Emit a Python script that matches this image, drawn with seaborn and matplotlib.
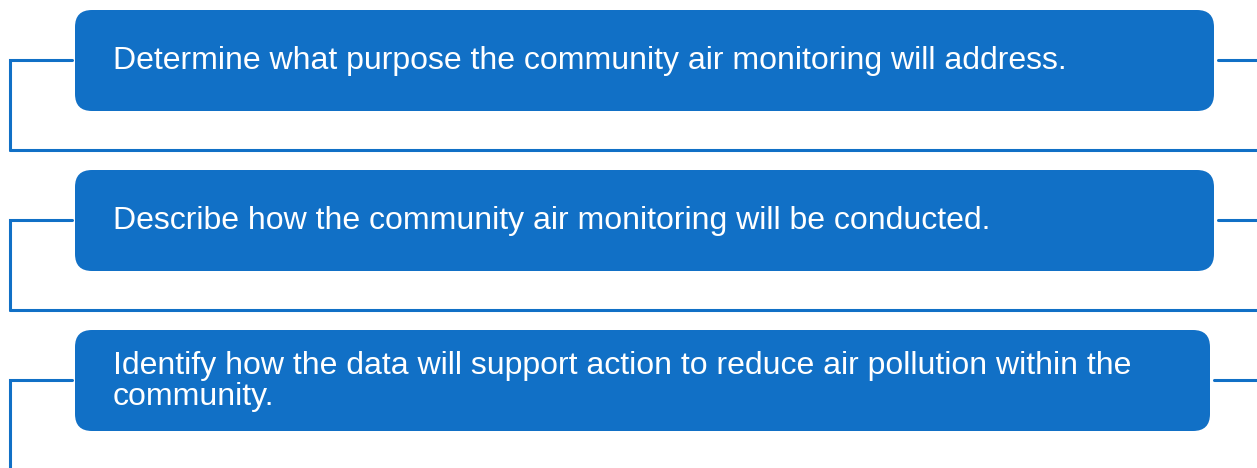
import matplotlib
matplotlib.use("Agg")
import matplotlib.pyplot as plt
from matplotlib.patches import FancyBboxPatch
import seaborn as sns

sns.set_style("white")
plt.rcParams["font.family"] = ["Liberation Sans", "DejaVu Sans"]

# steps of the flow, one box each
steps = [
    "Determine what purpose the community air monitoring will address.",
    "Describe how the community air monitoring will be conducted.",
    "Identify how the data will support action to reduce air pollution within the\ncommunity.",
]

blue = "#1170C6"
W, H = 1257, 468

fig = plt.figure(figsize=(W / 100, H / 100), dpi=100)
ax = fig.add_axes([0, 0, 1, 1])
ax.set_xlim(0, W)
ax.set_ylim(H, 0)
ax.axis("off")

box_top = [10, 170, 330]
box_right = [1214, 1214, 1210]
box_h = 101
lw = 2.2

for i, text in enumerate(steps):
    top = box_top[i]
    right = box_right[i]
    mid = top + 50
    box = FancyBboxPatch((75, top), right - 75, box_h,
                         boxstyle="round,pad=0,rounding_size=17",
                         facecolor=blue, edgecolor="none", zorder=3)
    ax.add_patch(box)

    # connector lines
    bottom = 150 + 160 * i if i < 2 else H + 5
    ax.plot([72, 10, 10], [mid, mid, bottom], color=blue, lw=lw,
            solid_joinstyle="miter", zorder=2)
    if i < 2:
        ax.plot([10, W], [bottom, bottom], color=blue, lw=lw, zorder=2)
    ax.plot([right + 4, W], [mid, mid], color=blue, lw=lw, zorder=2)

    lines = text.split("\n")
    # one line sits in the middle, wrapped text starts near the top
    y0 = mid + 9.5 if len(lines) == 1 else top + 44
    for k, line in enumerate(lines):
        ax.text(113, y0 + 31 * k, line, color="white", fontsize=23,
                va="baseline", ha="left", zorder=4)

fig.savefig("out.png", dpi=100)
